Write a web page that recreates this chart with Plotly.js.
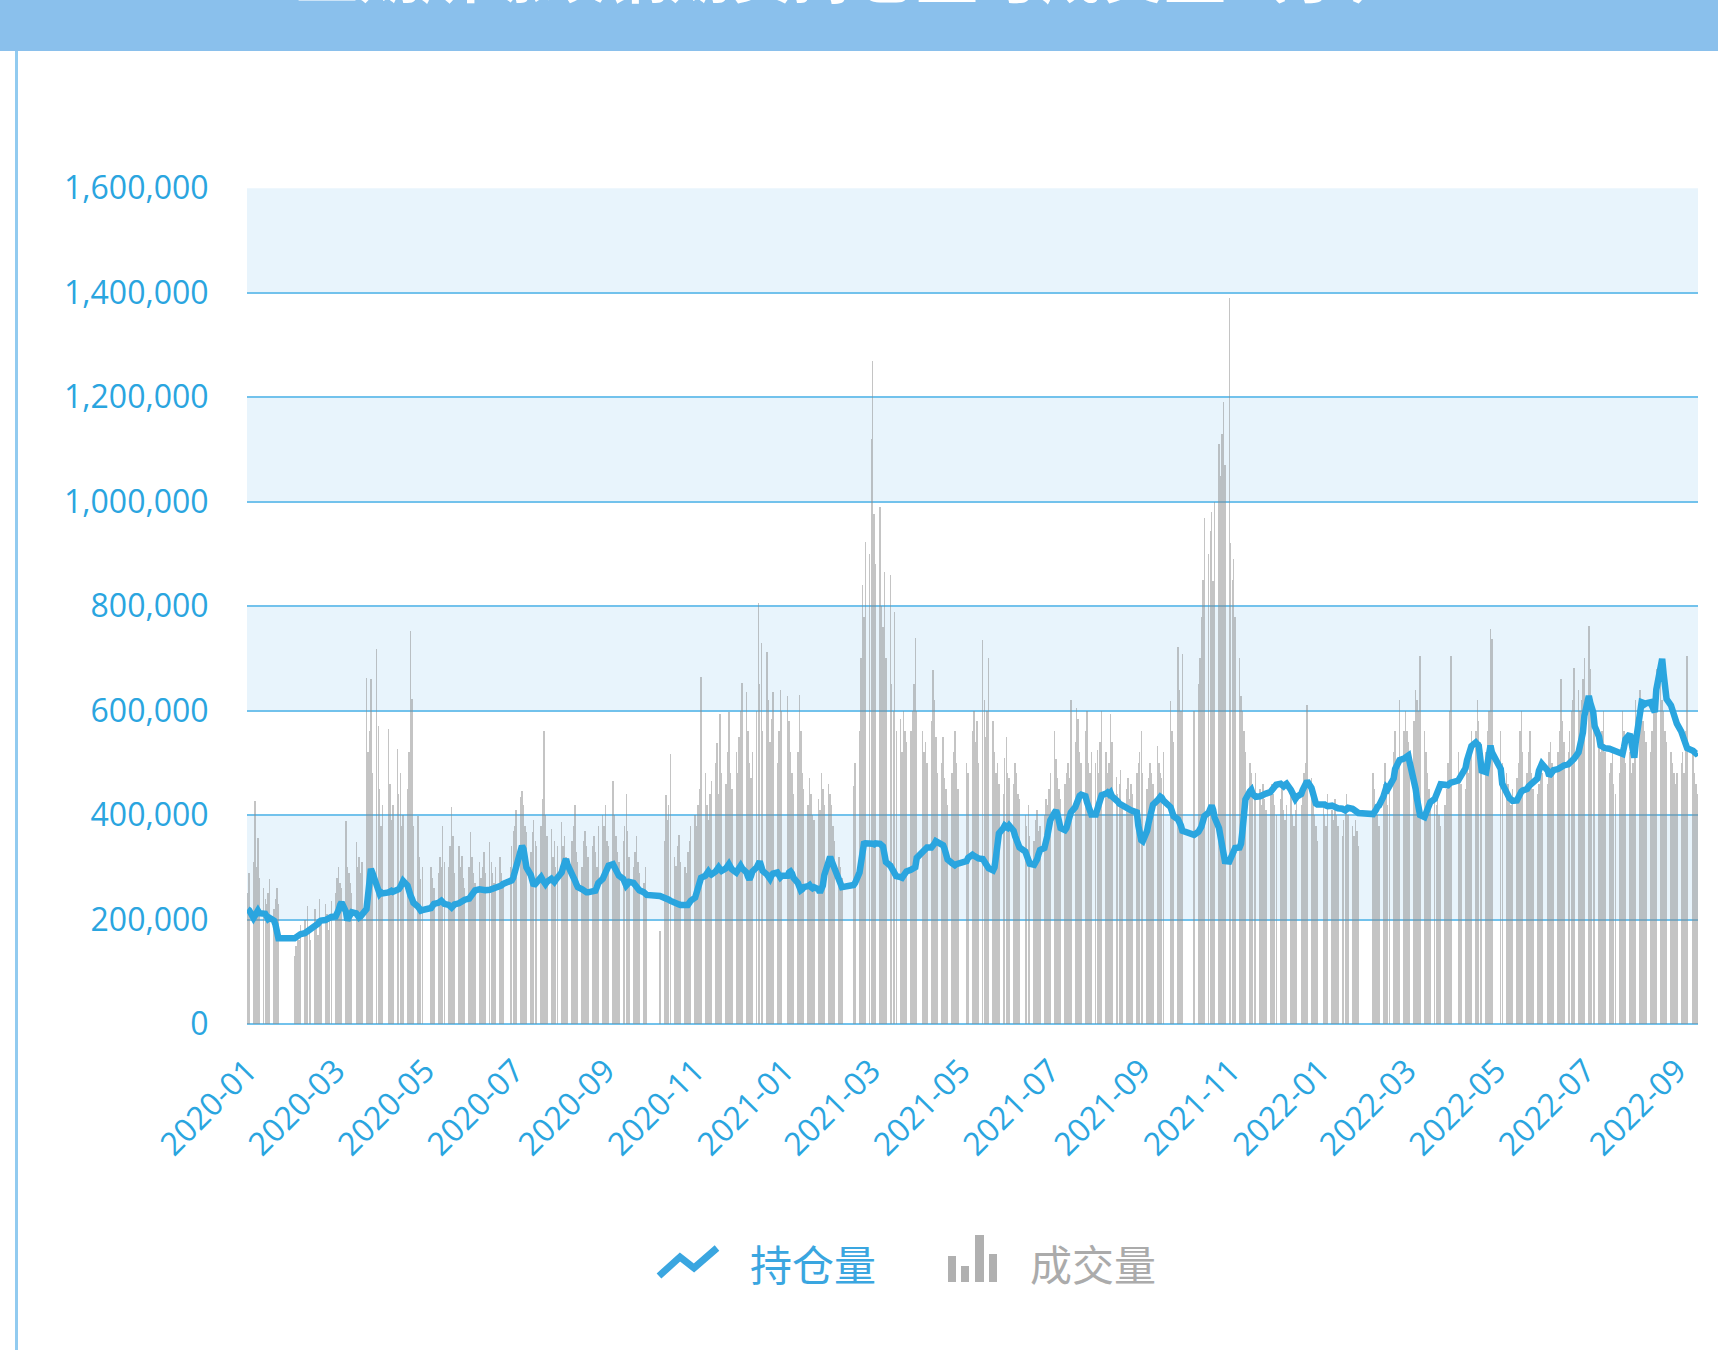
<!DOCTYPE html>
<html>
<head>
<meta charset="utf-8">
<script src="https://cdn.plot.ly/plotly-3.0.1.min.js"></script>
<style>
  html, body { margin: 0; padding: 0; background: #ffffff; }
  #wrap { position: relative; width: 1718px; height: 1350px; overflow: hidden; background: #ffffff; }
  #chart { position: absolute; left: 0; top: 0; width: 1718px; height: 1350px; }
  #header { position: absolute; left: 0; top: 0; width: 1718px; height: 51px; background: #8AC0EC; overflow: hidden; z-index: 5; }
  #header span { position: absolute; left: 296px; top: -60px; font-family: "Noto Sans CJK SC", sans-serif; font-size: 62px; line-height: 62px; color: #ffffff; white-space: nowrap; font-weight: bold; }
  #leftborder { position: absolute; left: 15px; top: 51px; width: 3px; height: 1299px; background: #92CBF0; z-index: 5; }
</style>
</head>
<body>
<div id="wrap">
  <div id="chart"></div>
  <div id="header"><span>上期所螺纹钢期货持仓量与成交量（手）</span></div>
  <div id="leftborder"></div>
</div>
<script>
// ---------------- DATA ----------------
const seriesNames = ['持仓量', '成交量'];
const tradeStart = '2020-01-02';
const tradeEnd = '2022-09-16';
// weekday exchange holidays (no trading)
const holidays = [
  '2020-01-01','2020-01-24','2020-01-27','2020-01-28','2020-01-29','2020-01-30','2020-01-31',
  '2020-04-06','2020-05-01','2020-05-04','2020-05-05','2020-06-25','2020-06-26',
  '2020-10-01','2020-10-02','2020-10-05','2020-10-06','2020-10-07','2020-10-08',
  '2021-01-01','2021-02-11','2021-02-12','2021-02-15','2021-02-16','2021-02-17',
  '2021-04-05','2021-05-03','2021-05-04','2021-05-05','2021-06-14','2021-09-20','2021-09-21',
  '2021-10-01','2021-10-04','2021-10-05','2021-10-06','2021-10-07',
  '2022-01-03','2022-01-31','2022-02-01','2022-02-02','2022-02-03','2022-02-04',
  '2022-04-04','2022-04-05','2022-05-02','2022-05-03','2022-05-04','2022-06-03','2022-09-12'
];

// 持仓量 (open interest), one value per trading day
const openInterest = [
  // 2020-01
  220e3,218e3,203e3,210e3,214e3,217e3,212e3,209e3,211e3,206e3,201e3,203e3,198e3,190e3,172e3,164e3,
  // 2020-02
  164e3,166e3,167e3,170e3,172e3,174e3,176e3,178e3,180e3,182e3,185e3,188e3,192e3,196e3,198e3,199e3,201e3,203e3,204e3,205e3,
  // 2020-03
  206e3,210e3,218e3,228e3,233e3,215e3,198e3,205e3,210e3,214e3,212e3,208e3,204e3,206e3,210e3,220e3,245e3,275e3,297e3,290e3,265e3,250e3,
  // 2020-04
  249e3,252e3,250e3,252e3,254e3,255e3,253e3,256e3,258e3,262e3,270e3,274e3,265e3,250e3,246e3,240e3,232e3,225e3,220e3,217e3,218e3,
  // 2020-05
  222e3,226e3,230e3,232e3,234e3,236e3,233e3,230e3,228e3,225e3,223e3,226e3,229e3,231e3,233e3,234e3,236e3,238e3,
  // 2020-06
  240e3,245e3,250e3,254e3,256e3,258e3,257e3,255e3,254e3,256e3,257e3,258e3,258e3,259e3,260e3,262e3,265e3,268e3,272e3,275e3,
  // 2020-07
  280e3,290e3,305e3,325e3,341e3,335e3,316e3,300e3,285e3,270e3,265e3,268e3,272e3,281e3,276e3,270e3,268e3,272e3,278e3,275e3,272e3,276e3,280e3,
  // 2020-08
  290e3,300e3,310e3,316e3,305e3,290e3,281e3,275e3,268e3,262e3,258e3,255e3,254e3,252e3,252e3,253e3,252e3,255e3,262e3,270e3,278e3,
  // 2020-09
  284e3,292e3,298e3,303e3,306e3,300e3,294e3,288e3,284e3,278e3,270e3,265e3,268e3,272e3,270e3,266e3,262e3,260e3,256e3,252e3,250e3,247e3,
  // 2020-10
  245e3,243e3,241e3,240e3,238e3,236e3,234e3,232e3,231e3,229e3,228e3,227e3,226e3,228e3,232e3,236e3,
  // 2020-11
  242e3,250e3,262e3,272e3,280e3,284e3,288e3,292e3,288e3,286e3,292e3,297e3,300e3,296e3,293e3,298e3,303e3,306e3,301e3,296e3,290e3,
  // 2020-12
  295e3,300e3,303e3,298e3,290e3,282e3,277e3,283e3,292e3,300e3,308e3,311e3,302e3,293e3,286e3,280e3,278e3,284e3,288e3,290e3,286e3,281e3,284e3,
  // 2021-01
  284e3,290e3,292e3,288e3,280e3,270e3,262e3,256e3,258e3,262e3,264e3,266e3,262e3,260e3,262e3,258e3,252e3,256e3,265e3,285e3,
  // 2021-02
  318e3,320e3,312e3,305e3,296e3,280e3,268e3,262e3,266e3,270e3,290e3,318e3,338e3,345e3,346e3,
  // 2021-03
  347e3,346e3,345e3,344e3,346e3,345e3,344e3,340e3,325e3,310e3,303e3,298e3,292e3,287e3,283e3,281e3,280e3,284e3,288e3,292e3,295e3,297e3,300e3,
  // 2021-04
  300e3,318e3,330e3,336e3,337e3,338e3,338e3,340e3,345e3,350e3,348e3,345e3,342e3,335e3,325e3,315e3,308e3,305e3,304e3,306e3,307e3,
  // 2021-05
  312e3,318e3,324e3,322e3,320e3,318e3,317e3,316e3,310e3,304e3,300e3,298e3,294e3,300e3,320e3,345e3,365e3,375e3,
  // 2021-06
  380e3,378e3,376e3,380e3,370e3,360e3,350e3,342e3,338e3,330e3,320e3,312e3,307e3,305e3,308e3,315e3,325e3,333e3,337e3,345e3,360e3,
  // 2021-07
  375e3,390e3,405e3,409e3,400e3,385e3,375e3,371e3,375e3,385e3,395e3,405e3,415e3,425e3,432e3,437e3,439e3,436e3,425e3,415e3,405e3,401e3,
  // 2021-08
  401e3,410e3,420e3,430e3,438e3,441e3,443e3,440e3,443e3,436e3,430e3,426e3,422e3,420e3,418e3,415e3,412e3,410e3,409e3,408e3,405e3,380e3,
  // 2021-09
  362e3,352e3,350e3,370e3,385e3,397e3,410e3,420e3,428e3,432e3,435e3,433e3,428e3,415e3,405e3,398e3,392e3,388e3,380e3,370e3,
  // 2021-10
  362e3,368e3,371e3,378e3,388e3,398e3,405e3,412e3,418e3,410e3,395e3,375e3,355e3,335e3,320e3,312e3,
  // 2021-11
  311e3,318e3,325e3,332e3,337e3,338e3,345e3,370e3,400e3,430e3,445e3,448e3,440e3,437e3,435e3,436e3,438e3,439e3,440e3,441e3,444e3,448e3,
  // 2021-12
  452e3,456e3,458e3,460e3,456e3,455e3,458e3,460e3,448e3,440e3,436e3,431e3,435e3,440e3,448e3,455e3,462e3,465e3,452e3,438e3,428e3,422e3,420e3,
  // 2022-01
  422e3,420e3,418e3,417e3,418e3,416e3,414e3,415e3,413e3,412e3,410e3,409e3,411e3,414e3,412e3,410e3,409e3,406e3,404e3,
  // 2022-02
  402e3,405e3,410e3,416e3,418e3,435e3,450e3,453e3,450e3,455e3,470e3,488e3,495e3,500e3,505e3,508e3,
  // 2022-03
  510e3,512e3,514e3,500e3,470e3,450e3,430e3,410e3,400e3,396e3,402e3,410e3,418e3,425e3,431e3,440e3,448e3,455e3,459e3,458e3,456e3,457e3,460e3,
  // 2022-04
  462e3,466e3,470e3,475e3,490e3,505e3,515e3,525e3,532e3,539e3,535e3,533e3,510e3,485e3,482e3,495e3,515e3,533e3,520e3,
  // 2022-05
  488e3,460e3,440e3,437e3,432e3,430e3,427e3,428e3,435e3,440e3,445e3,447e3,450e3,455e3,458e3,460e3,462e3,470e3,485e3,
  // 2022-06
  495e3,498e3,485e3,475e3,478e3,482e3,486e3,488e3,490e3,491e3,493e3,495e3,497e3,499e3,501e3,503e3,508e3,520e3,535e3,548e3,558e3,
  // 2022-07
  590e3,628e3,615e3,605e3,597e3,570e3,550e3,533e3,530e3,528e3,528e3,527e3,526e3,525e3,526e3,524e3,522e3,518e3,517e3,530e3,545e3,
  // 2022-08
  555e3,540e3,520e3,510e3,540e3,590e3,616e3,615e3,612e3,614e3,616e3,610e3,600e3,597e3,640e3,680e3,699e3,670e3,640e3,622e3,610e3,598e3,590e3,
  // 2022-09
  584e3,575e3,560e3,550e3,545e3,535e3,528e3,523e3,520e3,518e3,520e3
];

// 成交量 (volume), one value per trading day
const volume = [
  // 2020-01
  250e3,290e3,310e3,427e3,300e3,357e3,280e3,260e3,240e3,230e3,250e3,277e3,220e3,240e3,260e3,230e3,
  // 2020-02
  130e3,150e3,170e3,160e3,190e3,200e3,170e3,226e3,180e3,160e3,220e3,190e3,170e3,240e3,200e3,230e3,210e3,180e3,200e3,235e3,
  // 2020-03
  250e3,280e3,300e3,270e3,260e3,389e3,300e3,290e3,270e3,250e3,348e3,300e3,320e3,290e3,310e3,663e3,520e3,560e3,660e3,480e3,718e3,571e3,
  // 2020-04
  450e3,380e3,420e3,565e3,460e3,390e3,420e3,526e3,440e3,480e3,380e3,400e3,450e3,520e3,753e3,622e3,380e3,399e3,320e3,277e3,300e3,
  // 2020-05
  300e3,280e3,260e3,290e3,320e3,300e3,380e3,310e3,300e3,340e3,415e3,360e3,290e3,341e3,300e3,322e3,280e3,260e3,
  // 2020-06
  300e3,367e3,320e3,290e3,270e3,310e3,280e3,300e3,330e3,290e3,348e3,310e3,290e3,270e3,300e3,320e3,290e3,260e3,300e3,340e3,
  // 2020-07
  370e3,380e3,410e3,434e3,447e3,420e3,380e3,367e3,330e3,367e3,390e3,350e3,340e3,380e3,431e3,561e3,400e3,360e3,373e3,320e3,350e3,300e3,340e3,
  // 2020-08
  386e3,340e3,360e3,320e3,300e3,350e3,380e3,420e3,330e3,310e3,300e3,350e3,370e3,340e3,320e3,340e3,360e3,330e3,300e3,380e3,400e3,
  // 2020-09
  380e3,420e3,350e3,340e3,466e3,400e3,360e3,330e3,310e3,350e3,380e3,440e3,370e3,320e3,300e3,330e3,360e3,310e3,290e3,270e3,300e3,250e3,
  // 2020-10
  179e3,350e3,439e3,390e3,420e3,516e3,320e3,303e3,340e3,362e3,310e3,300e3,290e3,330e3,350e3,380e3,
  // 2020-11
  400e3,380e3,420e3,450e3,665e3,480e3,420e3,390e3,440e3,465e3,500e3,537e3,440e3,593e3,480e3,460e3,520e3,597e3,480e3,450e3,520e3,
  // 2020-12
  480e3,550e3,600e3,652e3,635e3,560e3,500e3,470e3,520e3,600e3,806e3,650e3,729e3,560e3,712e3,620e3,540e3,584e3,635e3,500e3,560e3,640e3,600e3,
  // 2021-01
  627e3,580e3,520e3,480e3,440e3,520e3,630e3,560e3,480e3,450e3,420e3,470e3,440e3,400e3,390e3,430e3,410e3,480e3,450e3,420e3,
  // 2021-02
  460e3,440e3,420e3,380e3,350e3,320e3,300e3,280e3,456e3,500e3,560e3,700e3,840e3,780e3,922e3,
  // 2021-03
  900e3,1120e3,1270e3,977e3,880e3,990e3,800e3,760e3,866e3,700e3,860e3,650e3,600e3,789e3,560e3,584e3,520e3,600e3,560e3,540e3,560e3,600e3,650e3,
  // 2021-04
  738e3,600e3,560e3,520e3,540e3,500e3,580e3,678e3,620e3,550e3,480e3,500e3,550e3,470e3,450e3,420e3,480e3,520e3,560e3,500e3,450e3,
  // 2021-05
  500e3,480e3,560e3,600e3,540e3,580e3,500e3,735e3,620e3,550e3,600e3,700e3,580e3,520e3,480e3,500e3,460e3,440e3,
  // 2021-06
  510e3,550e3,480e3,470e3,460e3,500e3,480e3,440e3,430e3,400e3,380e3,420e3,360e3,350e3,390e3,410e3,370e3,380e3,400e3,430e3,420e3,
  // 2021-07
  450e3,480e3,560e3,508e3,470e3,450e3,430e3,460e3,480e3,500e3,470e3,620e3,540e3,605e3,584e3,520e3,500e3,560e3,600e3,500e3,480e3,520e3,
  // 2021-08
  500e3,525e3,480e3,540e3,600e3,520e3,480e3,500e3,593e3,540e3,473e3,440e3,460e3,486e3,420e3,450e3,470e3,430e3,460e3,440e3,480e3,500e3,
  // 2021-09
  520e3,560e3,480e3,450e3,470e3,500e3,480e3,460e3,533e3,500e3,480e3,470e3,520e3,618e3,560e3,540e3,721e3,640e3,600e3,708e3,
  // 2021-10
  600e3,650e3,700e3,780e3,850e3,968e3,900e3,943e3,980e3,849e3,1000e3,1110e3,1050e3,1130e3,1190e3,1070e3,
  // 2021-11
  1390e3,920e3,850e3,891e3,780e3,700e3,627e3,600e3,560e3,520e3,500e3,480e3,460e3,440e3,480e3,450e3,420e3,460e3,430e3,410e3,440e3,460e3,
  // 2021-12
  440e3,420e3,400e3,430e3,460e3,410e3,390e3,420e3,450e3,400e3,380e3,410e3,430e3,420e3,460e3,480e3,500e3,610e3,470e3,430e3,400e3,380e3,350e3,
  // 2022-01
  420e3,400e3,380e3,440e3,410e3,390e3,430e3,400e3,380e3,360e3,390e3,420e3,440e3,400e3,380e3,360e3,390e3,370e3,340e3,
  // 2022-02
  480e3,450e3,420e3,400e3,380e3,460e3,500e3,440e3,420e3,450e3,520e3,560e3,480e3,500e3,620e3,560e3,
  // 2022-03
  600e3,560e3,540e3,520e3,580e3,640e3,620e3,600e3,705e3,560e3,520e3,480e3,450e3,430e3,440e3,420e3,460e3,400e3,380e3,420e3,450e3,500e3,600e3,
  // 2022-04
  705e3,520e3,480e3,460e3,450e3,500e3,480e3,520e3,560e3,560e3,620e3,580e3,540e3,500e3,520e3,560e3,600e3,756e3,737e3,
  // 2022-05
  560e3,500e3,480e3,460e3,440e3,420e3,450e3,470e3,500e3,560e3,600e3,520e3,480e3,520e3,560e3,480e3,450e3,440e3,460e3,
  // 2022-06
  500e3,480e3,460e3,520e3,540e3,500e3,480e3,520e3,560e3,660e3,580e3,540e3,520e3,560e3,600e3,620e3,681e3,640e3,600e3,620e3,660e3,
  // 2022-07
  700e3,762e3,680e3,620e3,600e3,560e3,540e3,520e3,560e3,600e3,520e3,480e3,500e3,520e3,460e3,440e3,480e3,520e3,600e3,560e3,500e3,
  // 2022-08
  520e3,480e3,500e3,560e3,620e3,640e3,600e3,580e3,560e3,540e3,520e3,560e3,600e3,640e3,680e3,660e3,620e3,600e3,560e3,540e3,520e3,500e3,480e3,
  // 2022-09
  460e3,480e3,500e3,520e3,480e3,560e3,705e3,520e3,480e3,460e3,440e3
];

const yTickValues = [0, 200000, 400000, 600000, 800000, 1000000, 1200000, 1400000, 1600000];
const xTickFormat = '%Y-%m';

// ---------------- BUILD ----------------
function pad(n) { return (n < 10 ? '0' : '') + n; }
function buildTradingDays(start, end, closed) {
  const closedSet = new Set(closed);
  const out = [];
  const s = start.split('-').map(Number), e = end.split('-').map(Number);
  let t = Date.UTC(s[0], s[1] - 1, s[2]);
  const tEnd = Date.UTC(e[0], e[1] - 1, e[2]);
  while (t <= tEnd) {
    const d = new Date(t);
    const wd = d.getUTCDay();
    const key = d.getUTCFullYear() + '-' + pad(d.getUTCMonth() + 1) + '-' + pad(d.getUTCDate());
    if (wd !== 0 && wd !== 6 && !closedSet.has(key)) out.push(key);
    t += 86400000;
  }
  return out;
}
const dates = buildTradingDays(tradeStart, tradeEnd, holidays);
const n = Math.min(dates.length, volume.length, openInterest.length);
const xDates = dates.slice(0, n);

const BLUE = '#2AA5DF';
const GRID = '#72C2EC';
const BAND = '#E8F4FC';
const fontNum = '"Open Sans", "Liberation Sans", Arial, sans-serif';
const fontCJK = '"Noto Sans CJK SC", "Noto Sans", sans-serif';

const traceVolume = {
  type: 'bar',
  name: seriesNames[1],
  x: xDates,
  y: volume.slice(0, n),
  width: 0.95 * 86400000,
  marker: { color: 'rgba(138,138,138,0.5)', line: { width: 0 } },
  showlegend: false,
  hoverinfo: 'skip'
};
const traceOI = {
  type: 'scatter',
  mode: 'lines',
  name: seriesNames[0],
  x: xDates,
  y: openInterest.slice(0, n),
  line: { color: BLUE, width: 6.5 },
  showlegend: false,
  hoverinfo: 'skip'
};

// plot area in page pixels (for the hand-drawn legend)
const M = { l: 247, r: 20, t: 188, b: 326 };
const PW = 1718 - M.l - M.r, PH = 1350 - M.t - M.b;
const px = v => (v - M.l) / PW;
const py = v => (1350 - M.b - v) / PH;

const shapes = [];
for (let i = 1; i + 1 < yTickValues.length; i += 2) {
  shapes.push({
    type: 'rect', xref: 'paper', yref: 'y', layer: 'below',
    x0: 0, x1: 1, y0: yTickValues[i], y1: yTickValues[i + 1],
    fillcolor: BAND, line: { width: 0 }
  });
}
// legend icon: zigzag line for 持仓量
shapes.push({
  type: 'path', xref: 'paper', yref: 'paper', layer: 'above',
  path: 'M' + px(659) + ',' + py(1276) + ' L' + px(680) + ',' + py(1257) +
        ' L' + px(694) + ',' + py(1268) + ' L' + px(717) + ',' + py(1248),
  line: { color: '#3AA6E0', width: 7 }
});
// legend icon: small column chart for 成交量
const barIcon = [[948, 956, 1256], [961, 969, 1266], [975, 984, 1235], [989, 997, 1254]];
barIcon.forEach(b => shapes.push({
  type: 'rect', xref: 'paper', yref: 'paper', layer: 'above',
  x0: px(b[0]), x1: px(b[1]), y0: py(1282), y1: py(b[2]),
  fillcolor: '#B0B0B0', line: { width: 0 }
}));

const annotations = [
  { text: seriesNames[0], xref: 'paper', yref: 'paper', x: px(748), y: py(1262),
    xanchor: 'left', yanchor: 'middle', showarrow: false,
    font: { family: fontCJK, size: 42, color: '#3AA6E0' } },
  { text: seriesNames[1], xref: 'paper', yref: 'paper', x: px(1028), y: py(1262),
    xanchor: 'left', yanchor: 'middle', showarrow: false,
    font: { family: fontCJK, size: 42, color: '#ABABAB' } }
];

const layout = {
  width: 1718,
  height: 1350,
  margin: { l: M.l, r: M.r, t: M.t, b: M.b, pad: 0 },
  paper_bgcolor: '#ffffff',
  plot_bgcolor: 'rgba(0,0,0,0)',
  showlegend: false,
  bargap: 0,
  xaxis: {
    type: 'date',
    range: ['2020-01-01 14:00', '2022-09-16 10:00'],
    tick0: '2020-01-02',
    dtick: 'M2',
    tickformat: xTickFormat,
    tickangle: -45,
    showgrid: false,
    zeroline: false,
    showline: false,
    ticks: 'outside',
    ticklen: 14,
    tickcolor: 'rgba(0,0,0,0)',
    tickfont: { family: fontNum, size: 32, color: BLUE },
    fixedrange: true
  },
  yaxis: {
    range: [0, 1600400],
    tickvals: yTickValues,
    tickformat: ',d',
    showgrid: true,
    gridcolor: GRID,
    gridwidth: 2,
    zeroline: true,
    zerolinecolor: GRID,
    zerolinewidth: 2,
    showline: false,
    ticks: 'outside',
    ticklen: 31,
    tickcolor: 'rgba(0,0,0,0)',
    tickfont: { family: fontNum, size: 32, color: BLUE },
    fixedrange: true
  },
  shapes: shapes,
  annotations: annotations
};

Plotly.newPlot('chart', [traceVolume, traceOI], layout, { staticPlot: true, displayModeBar: false });
</script>
</body>
</html>
